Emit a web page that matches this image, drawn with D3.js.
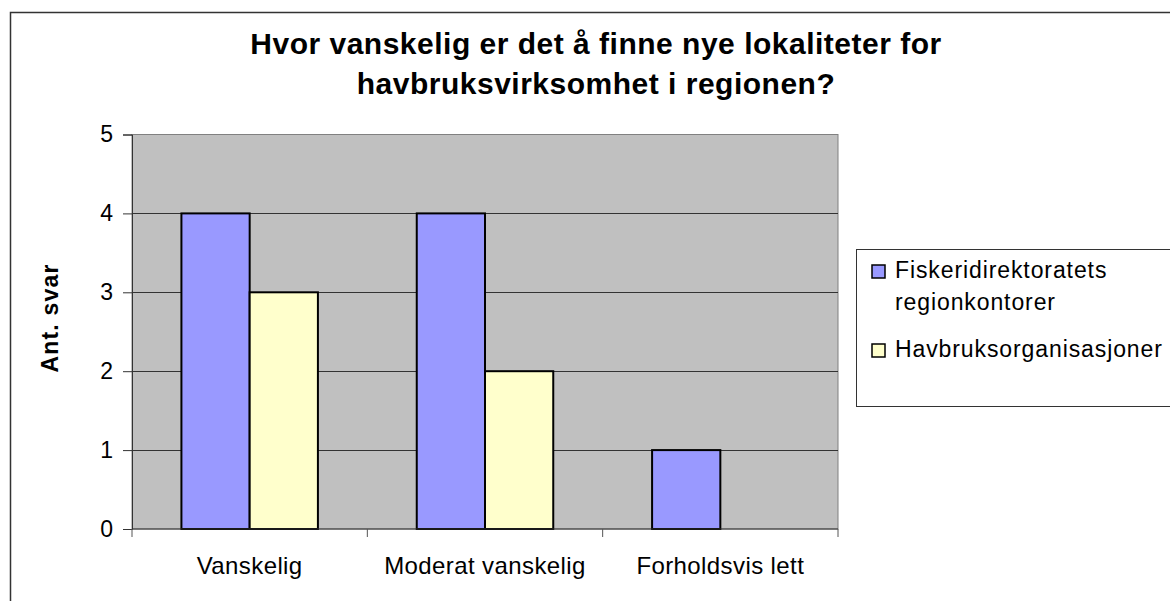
<!DOCTYPE html>
<html>
<head>
<meta charset="utf-8">
<script src="https://cdn.jsdelivr.net/npm/d3@7"></script>
<style>
  body { margin: 0; background: #fff; }
  svg { display: block; font-family: "Liberation Sans", Arial, sans-serif; }
</style>
</head>
<body>
<script>
// data
var categories = ["Vanskelig", "Moderat vanskelig", "Forholdsvis lett"];
var seriesNames = ["Fiskeridirektoratets regionkontorer", "Havbruksorganisasjoner"];
var fiskeri = [4, 4, 1];
var havbruk = [3, 2, 0];
var yTicks = [0, 1, 2, 3, 4, 5];
var colors = ["#9999FF", "#FFFFCC"];

var w = 1170, h = 601;
var plot = {left: 132, right: 838, top: 134.5, bottom: 529};

var svg = d3.select("body").append("svg")
	.attr("width", w)
	.attr("height", h);

// outer chart frame (runs off the right and bottom)
svg.append("rect")
	.attr("x", 10.5).attr("y", 12.5)
	.attr("width", 1200).attr("height", 620)
	.attr("fill", "#fff")
	.attr("stroke", "#333").attr("stroke-width", 1.5);

// title
var title = svg.append("text")
	.attr("text-anchor", "middle")
	.attr("font-weight", "bold")
	.attr("font-size", 30)
	.attr("letter-spacing", 0.5);
title.append("tspan").attr("x", 596).attr("y", 54).text("Hvor vanskelig er det å finne nye lokaliteter for");
title.append("tspan").attr("x", 596).attr("y", 94).text("havbruksvirksomhet i regionen?");

var x0 = d3.scaleBand()
	.domain(categories)
	.range([plot.left, plot.right])
	.paddingInner(0.42).paddingOuter(0.21);
var x1 = d3.scaleBand()
	.domain([0, 1])
	.range([0, x0.bandwidth()]);
var y = d3.scaleLinear()
	.domain([0, 5])
	.range([plot.bottom, plot.top]);

// plot area
svg.append("rect")
	.attr("x", plot.left).attr("y", plot.top)
	.attr("width", plot.right - plot.left)
	.attr("height", plot.bottom - plot.top)
	.attr("fill", "#C0C0C0")
	.attr("stroke", "#808080").attr("stroke-width", 1);

// gridlines
svg.append("g").selectAll("line")
	.data(yTicks.slice(1, -1))
	.join("line")
	.attr("x1", plot.left).attr("x2", plot.right)
	.attr("y1", d => Math.round(y(d)) + 0.5)
	.attr("y2", d => Math.round(y(d)) + 0.5)
	.attr("stroke", "#333").attr("stroke-width", 1);

// bars
var groups = svg.append("g").selectAll("g")
	.data(categories)
	.join("g")
	.attr("transform", d => "translate(" + x0(d) + ",0)");
groups.selectAll("rect")
	.data((d, i) => [fiskeri[i], havbruk[i]])
	.join("rect")
	.filter(d => d > 0)
	.attr("x", (d, i) => x1(i))
	.attr("width", x1.bandwidth())
	.attr("y", d => y(d))
	.attr("height", d => y(0) - y(d))
	.attr("fill", (d, i) => colors[i])
	.attr("stroke", "#000").attr("stroke-width", 2);

// y axis
var yAxis = svg.append("g")
	.attr("transform", "translate(" + plot.left + ",0)")
	.call(d3.axisLeft(y).tickValues(yTicks).tickFormat(d3.format("d")).tickSize(9).tickPadding(10));
yAxis.select(".domain").attr("stroke", "#333");
yAxis.selectAll(".tick line").attr("stroke", "#333");
yAxis.selectAll("text")
	.attr("font-family", "Liberation Sans, Arial, sans-serif")
	.attr("font-size", 23).attr("fill", "#000");

// x axis (ticks between categories)
var xAxis = svg.append("g")
	.attr("transform", "translate(0," + plot.bottom + ")");
xAxis.append("line")
	.attr("x1", plot.left).attr("x2", plot.right)
	.attr("stroke", "#333");
var step = (plot.right - plot.left) / categories.length;
xAxis.selectAll(".xt")
	.data(d3.range(categories.length + 1))
	.join("line")
	.attr("class", "xt")
	.attr("x1", d => plot.left + d * step).attr("x2", d => plot.left + d * step)
	.attr("y1", 0).attr("y2", 8)
	.attr("stroke", "#555");
xAxis.selectAll("text")
	.data(categories)
	.join("text")
	.attr("x", d => x0(d) + x0.bandwidth() / 2)
	.attr("y", 45)
	.attr("text-anchor", "middle")
	.attr("font-size", 24)
	.attr("letter-spacing", 0.4)
	.text(d => d);

// y axis title
svg.append("text")
	.attr("transform", "translate(58,318) rotate(-90)")
	.attr("text-anchor", "middle")
	.attr("font-weight", "bold")
	.attr("font-size", 23)
	.attr("letter-spacing", 1.2)
	.text("Ant. svar");

// legend
var legend = svg.append("g");
legend.append("rect")
	.attr("x", 856.5).attr("y", 249.5)
	.attr("width", 400).attr("height", 157)
	.attr("fill", "#fff")
	.attr("stroke", "#333").attr("stroke-width", 1);
var legendLines = [["Fiskeridirektoratets", "regionkontorer"], ["Havbruksorganisasjoner"]];
var legendY = [278, 357];
legendLines.forEach(function (lines, i) {
	legend.append("rect")
		.attr("x", 872).attr("y", legendY[i] - 13)
		.attr("width", 13).attr("height", 13)
		.attr("fill", colors[i])
		.attr("stroke", "#000").attr("stroke-width", 1.5);
	var t = legend.append("text")
		.attr("font-size", 23)
		.attr("letter-spacing", 0.9);
	lines.forEach(function (line, j) {
		t.append("tspan").attr("x", 895).attr("y", legendY[i] + j * 32).text(line);
	});
});
</script>
</body>
</html>
